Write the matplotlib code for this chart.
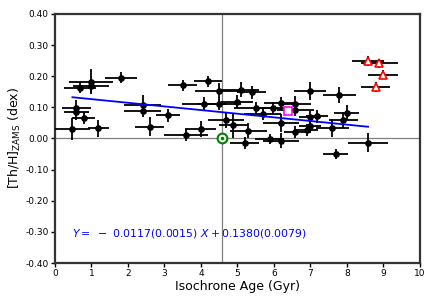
import matplotlib
matplotlib.use("Agg")
import matplotlib.pyplot as plt
import numpy as np

# Black points: age (Gyr), [Th/H], errors
age = [0.48, 0.59, 0.59, 0.79, 0.69, 0.99, 0.99, 1.19, 1.80, 2.40, 2.40, 2.60,
       3.10, 3.50, 3.59, 3.99, 4.19, 4.49, 4.09, 4.49, 4.69, 4.89, 4.99, 5.09,
       5.39, 5.50, 5.69, 5.30, 5.20, 5.89, 5.98, 6.19, 6.58, 6.59, 6.19, 6.19,
       6.59, 6.90, 6.99, 6.99, 6.99, 7.19, 7.60, 7.79, 7.90, 7.99, 7.69, 8.58]
thh = [0.030, 0.097, 0.084, 0.065, 0.163, 0.182, 0.170, 0.033, 0.195, 0.109, 0.088, 0.038,
       0.074, 0.171, 0.012, 0.031, 0.184, 0.154, 0.112, 0.112, 0.058, 0.042, 0.118, 0.157,
       0.148, 0.097, 0.079, 0.025, -0.014, -0.002, 0.097, 0.113, 0.112, 0.093, 0.050, -0.007,
       0.021, 0.028, 0.039, 0.152, 0.068, 0.071, 0.034, 0.140, 0.060, 0.083, -0.050, -0.013]
age_err = [0.48, 0.39, 0.35, 0.32, 0.43, 0.60, 0.50, 0.29, 0.44, 0.50, 0.50, 0.40,
           0.33, 0.39, 0.60, 0.43, 0.39, 0.66, 0.60, 0.60, 0.50, 0.40, 0.45, 0.50,
           0.40, 0.60, 0.50, 0.50, 0.40, 0.40, 0.50, 0.45, 0.45, 0.50, 0.50, 0.50,
           0.30, 0.30, 0.30, 0.45, 0.30, 0.30, 0.45, 0.45, 0.40, 0.35, 0.35, 0.55]
thh_err = [0.035, 0.025, 0.025, 0.020, 0.017, 0.040, 0.020, 0.027, 0.018, 0.030, 0.020, 0.030,
           0.020, 0.018, 0.020, 0.025, 0.018, 0.025, 0.020, 0.020, 0.025, 0.040, 0.020, 0.025,
           0.020, 0.020, 0.020, 0.025, 0.020, 0.015, 0.020, 0.020, 0.025, 0.020, 0.030, 0.025,
           0.020, 0.020, 0.020, 0.030, 0.020, 0.020, 0.030, 0.025, 0.025, 0.025, 0.015, 0.030]

# Red triangles
tri_age = [8.58, 8.89, 8.99, 8.79]
tri_thh = [0.249, 0.241, 0.205, 0.165]
tri_age_err = [0.45, 0.50, 0.40, 0.40]
tri_thh_err = [0.015, 0.015, 0.015, 0.015]

# Magenta square
sq_age = [6.39]
sq_thh = [0.088]

# Sun
sun_age = 4.57
sun_thh = 0.0

slope = -0.0117
intercept = 0.1380

x_ticks = list(range(0, 11))
y_ticks = [0.40, 0.30, 0.20, 0.10, 0.00, -0.10, -0.20, -0.30, -0.40]

fig = plt.figure(figsize=(4.36, 3.02), dpi=100)
ax = fig.add_axes([0.126, 0.129, 0.837, 0.825])

ax.axvline(sun_age, color='gray', lw=0.9, zorder=1)
ax.axhline(0.0, color='gray', lw=0.9, zorder=1)

ax.errorbar(age, thh, xerr=age_err, yerr=thh_err, fmt='o', color='black',
            ms=3.8, elinewidth=1.3, capsize=0, ecolor='black', zorder=3)
ax.errorbar(tri_age, tri_thh, xerr=tri_age_err, yerr=tri_thh_err, fmt='none',
            ecolor='black', elinewidth=1.3, capsize=0, zorder=3)
ax.plot(tri_age, tri_thh, '^', mfc='white', mec='red', ms=6, mew=1.2, zorder=4)
ax.plot(sq_age, sq_thh, 's', mfc='white', mec='magenta', ms=6, mew=1.2, zorder=4)
ax.plot([sun_age], [sun_thh], 'o', mfc='white', mec='green', ms=7, mew=1.5, zorder=4)
ax.plot([sun_age], [sun_thh], '.', color='green', ms=3, zorder=5)

xf = np.array([min(age), max(age)])
ax.plot(xf, slope * xf + intercept, color='blue', lw=1.3, zorder=4)

ax.text(0.46, -0.305, r'$Y =\ -\ 0.0117(0.0015)\ X + 0.1380(0.0079)$', color='blue',
        fontsize=7.8, va='center', ha='left')

ax.set_xlim(0, 10)
ax.set_ylim(-0.40, 0.40)
ax.set_xticks(x_ticks)
ax.set_yticks(y_ticks)
ax.set_yticklabels([f'{v:.2f}' for v in y_ticks])
ax.tick_params(labelsize=6.5, direction='out', length=3, width=1, top=False, right=False, pad=1.5)
for s in ax.spines.values():
    s.set_linewidth(1.6)
    s.set_color('#333333')

ax.set_xlabel('Isochrone Age (Gyr)', fontsize=9, labelpad=1)
ax.set_ylabel(r'[Th/H]$_{\rm ZAMS}$ (dex)', fontsize=9, labelpad=2)

fig.savefig('out.png', dpi=100)
